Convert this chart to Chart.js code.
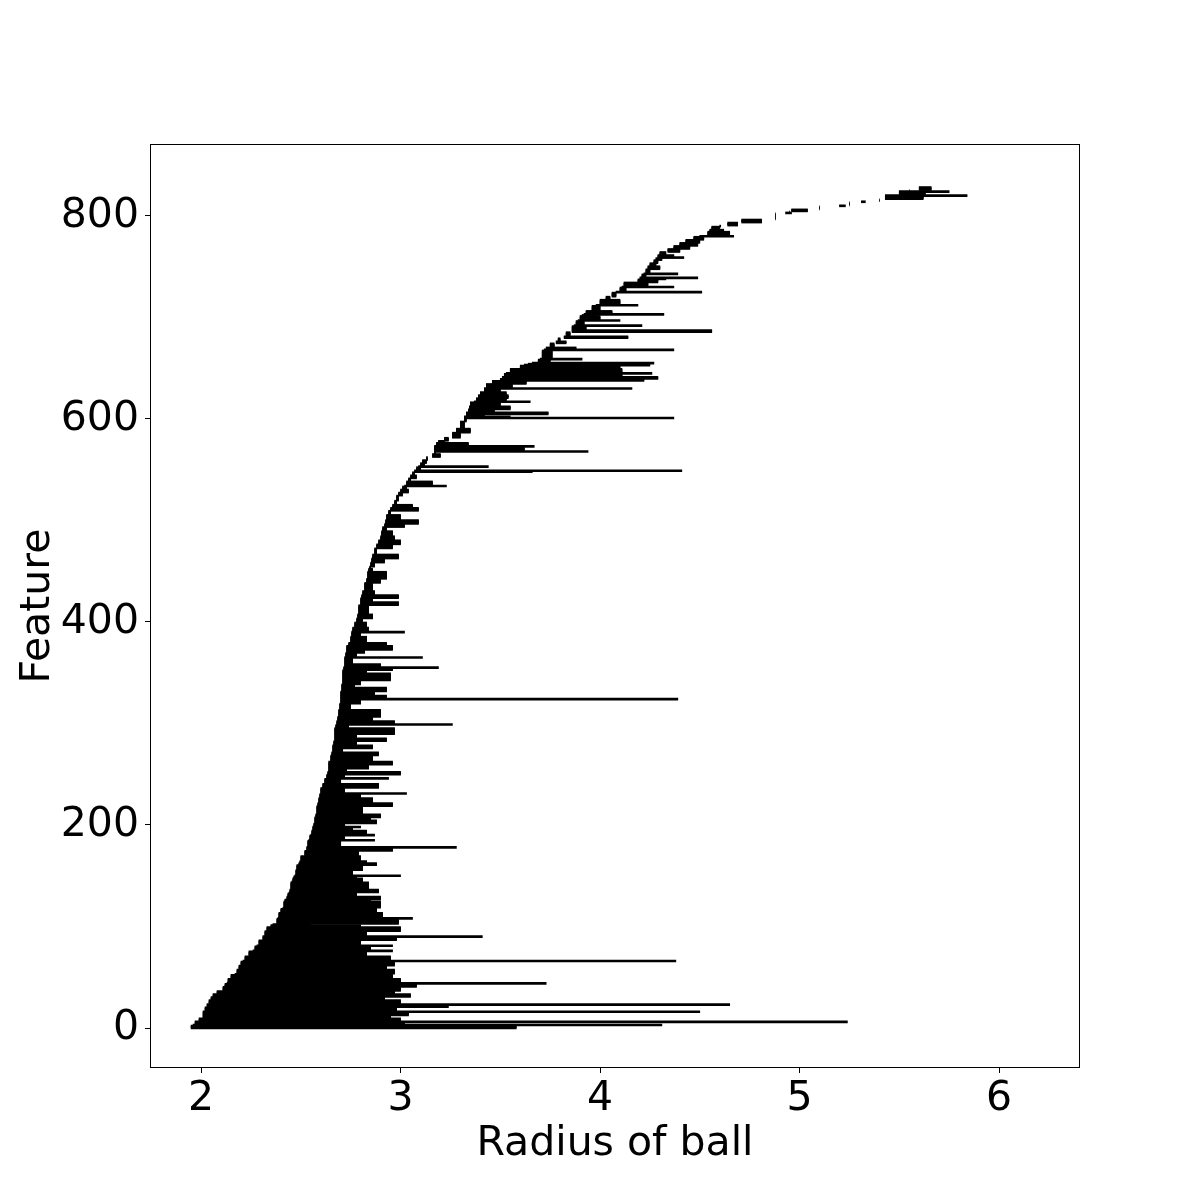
<!DOCTYPE html>
<html>
<head>
<meta charset="utf-8">
<script src="https://cdn.jsdelivr.net/npm/chart.js@4"></script>
<style>
  html, body { margin: 0; padding: 0; background: #fff; }
  #barcode { display: block; }
</style>
</head>
<body>
<canvas id="barcode" width="1200" height="1200"></canvas>
<script>
// Barcode, bottom to top: consecutive runs of features
// that share the same birth and death radius.
const runLength = [
  3, 1, 2, 1, 3, 3, 3, 1, 4, 1,
  1, 1, 4, 3, 3, 3, 4, 3, 1, 4,
  4, 1, 4, 4, 4, 1, 4, 5, 1, 4,
  1, 5, 3, 1, 5, 4, 2, 1, 5, 1,
  5, 4, 1, 6, 1, 1, 3, 3, 1, 3,
  7, 1, 3, 2, 1, 5, 5, 2, 2, 5,
  5, 3, 1, 6, 1, 4, 1, 4, 3, 1,
  3, 3, 3, 3, 7, 1, 3, 5, 4, 1,
  5, 4, 5, 1, 3, 3, 3, 4, 3, 6,
  3, 4, 3, 4, 3, 4, 6, 3, 1, 3,
  4, 7, 6, 4, 1, 3, 4, 4, 3, 4,
  7, 3, 2, 1, 3, 6, 1, 4, 3, 4,
  3, 6, 4, 1, 4, 5, 4, 4, 9, 3,
  4, 3, 4, 8, 4, 7, 3, 2, 4, 4,
  4, 6, 4, 4, 4, 5, 4, 3, 4, 5,
  4, 3, 3, 4, 5, 3, 3, 3, 1, 4,
  3, 3, 3, 1, 1, 3, 1, 3, 3, 3,
  3, 2, 1, 4, 1, 3, 2, 3, 5, 4,
  7, 3, 1, 1, 2, 2, 3, 3, 4, 1,
  3, 3, 3, 3, 1, 4, 3, 2, 2, 3,
  1, 4, 3, 1, 1, 1, 3, 1, 8, 1,
  2, 4, 2, 3, 2, 4, 2, 4, 1, 4,
  1, 4, 1, 1, 3, 5, 1, 5, 3, 4,
  1, 4, 1, 4, 3, 1, 1, 3, 1, 4,
  3, 3, 3, 2, 1, 2, 3, 3, 3, 3,
  3, 3, 1, 4, 2, 3, 1, 3, 3, 6,
  1, 1, 2, 3, 1, 3, 1, 2, 3, 1,
  3, 1, 1, 3
];

const runBirth = [
  1.95, 1.96, 1.97, 1.97, 1.99, 2.01, 2.01, 2.01, 2.02, 2.03,
  2.03, 2.03, 2.04, 2.05, 2.06, 2.08, 2.11, 2.12, 2.13, 2.135,
  2.15, 2.17, 2.18, 2.19, 2.20, 2.21, 2.22, 2.24, 2.26, 2.27,
  2.28, 2.29, 2.31, 2.31, 2.32, 2.33, 2.35, 2.36, 2.38, 2.385,
  2.39, 2.40, 2.41, 2.415, 2.42, 2.42, 2.43, 2.435, 2.44, 2.445,
  2.45, 2.455, 2.46, 2.465, 2.47, 2.475, 2.48, 2.49, 2.495, 2.50,
  2.52, 2.53, 2.53, 2.535, 2.54, 2.545, 2.55, 2.555, 2.56, 2.56,
  2.565, 2.57, 2.57, 2.575, 2.58, 2.58, 2.585, 2.59, 2.595, 2.60,
  2.60, 2.61, 2.62, 2.63, 2.63, 2.635, 2.64, 2.64, 2.64, 2.65,
  2.655, 2.66, 2.66, 2.665, 2.67, 2.67, 2.67, 2.675, 2.68, 2.68,
  2.685, 2.69, 2.695, 2.70, 2.70, 2.70, 2.70, 2.705, 2.705, 2.71,
  2.71, 2.71, 2.715, 2.715, 2.72, 2.72, 2.72, 2.725, 2.73, 2.73,
  2.74, 2.75, 2.755, 2.755, 2.76, 2.77, 2.78, 2.785, 2.79, 2.80,
  2.80, 2.805, 2.81, 2.82, 2.83, 2.835, 2.84, 2.845, 2.85, 2.855,
  2.86, 2.87, 2.88, 2.89, 2.90, 2.905, 2.91, 2.92, 2.925, 2.93,
  2.94, 2.95, 2.96, 2.97, 2.98, 2.99, 3.00, 3.01, 3.02, 3.03,
  3.04, 3.05, 3.06, 3.07, 3.07, 3.08, 3.09, 3.10, 3.11, 3.13,
  3.16, 3.17, 3.17, 3.17, 3.17, 3.18, 3.19, 3.22, 3.26, 3.28,
  3.30, 3.32, 3.32, 3.32, 3.33, 3.33, 3.34, 3.345, 3.35, 3.37,
  3.38, 3.39, 3.40, 3.42, 3.42, 3.43, 3.46, 3.50, 3.51, 3.52,
  3.53, 3.55, 3.60, 3.62, 3.64, 3.66, 3.69, 3.70, 3.71, 3.72,
  3.73, 3.75, 3.78, 3.79, 3.82, 3.83, 3.86, 3.86, 3.87, 3.88,
  3.89, 3.90, 3.91, 3.92, 3.93, 3.96, 3.98, 4.00, 4.03, 4.06,
  4.08, 4.10, 4.11, 4.12, 4.19, 4.20, 4.20, 4.21, 4.22, 4.23,
  4.24, 4.25, 4.27, 4.28, 4.29, 4.29, 4.30, 4.34, 4.37, 4.40,
  4.43, 4.47, 4.50, 4.54, 4.55, 4.56, 4.60, 4.64, 4.71, 4.88,
  4.93, 4.95, 4.96, 5.10, 5.20, 5.25, 5.31, 5.40, 5.43, 5.43,
  5.50, 5.50, 5.55, 5.60
];

const runDeath = [
  3.58, 4.31, 3.02, 5.24, 3.00, 2.95, 3.04, 4.50, 2.98, 3.24,
  2.90, 4.65, 3.00, 2.92, 3.05, 2.97, 3.00, 3.08, 3.73, 3.00,
  2.96, 2.38, 2.97, 2.93, 2.97, 4.38, 2.95, 2.83, 2.96, 2.85,
  2.96, 2.80, 2.98, 3.41, 2.83, 3.00, 2.80, 2.55, 2.99, 3.06,
  2.91, 2.88, 2.42, 2.90, 2.52, 2.85, 2.90, 2.78, 2.47, 2.89,
  2.84, 2.54, 2.81, 2.78, 3.00, 2.76, 2.81, 2.88, 2.83, 2.80,
  2.79, 2.96, 3.28, 2.70, 2.87, 2.72, 2.87, 2.83, 2.76, 2.80,
  2.72, 2.88, 2.85, 2.90, 2.81, 2.62, 2.96, 2.86, 2.80, 3.03,
  2.72, 2.89, 2.70, 2.94, 2.72, 3.00, 2.73, 2.84, 2.96, 2.86,
  2.89, 2.71, 2.86, 2.78, 2.93, 2.78, 2.97, 2.74, 3.26, 2.97,
  2.86, 2.90, 2.75, 2.80, 4.39, 2.93, 2.87, 2.93, 2.77, 2.80,
  2.95, 2.83, 2.96, 3.19, 2.90, 2.76, 3.11, 2.78, 2.82, 2.96,
  2.93, 2.83, 2.80, 3.02, 2.84, 2.83, 2.81, 2.86, 2.84, 2.99,
  2.86, 2.99, 2.87, 2.86, 2.90, 2.93, 2.86, 2.85, 2.87, 2.92,
  2.99, 2.88, 2.96, 3.00, 2.97, 2.96, 2.93, 3.02, 3.09, 3.00,
  2.95, 3.09, 3.06, 2.98, 2.99, 3.01, 3.04, 3.03, 3.23, 3.16,
  3.05, 3.08, 3.07, 3.66, 4.41, 3.10, 3.44, 3.12, 3.13, 3.135,
  3.20, 3.175, 3.94, 3.62, 3.67, 3.34, 3.22, 3.24, 3.30, 3.35,
  3.32, 3.33, 4.37, 3.55, 3.42, 3.74, 3.47, 3.55, 3.50, 3.65,
  3.53, 3.54, 3.53, 3.50, 4.16, 3.56, 3.63, 4.22, 4.29, 4.11,
  4.26, 4.11, 4.10, 4.25, 3.76, 4.27, 3.75, 3.91, 3.76, 4.37,
  3.88, 3.77, 3.83, 3.80, 4.14, 3.85, 4.56, 3.93, 4.21, 3.92,
  4.10, 4.00, 3.98, 4.32, 4.06, 4.00, 4.19, 4.10, 4.05, 4.08,
  4.51, 4.13, 4.37, 4.24, 4.29, 4.33, 4.49, 4.23, 4.39, 4.25,
  4.30, 4.28, 4.29, 4.31, 4.42, 4.37, 4.33, 4.40, 4.45, 4.49,
  4.50, 4.52, 4.67, 4.65, 4.62, 4.60, 4.605, 4.69, 4.81, 4.88,
  4.96, 4.95, 5.04, 5.10, 5.23, 5.25, 5.33, 5.40, 5.62, 5.84,
  5.63, 5.75, 5.55, 5.66
];

const radiusTicks = [2, 3, 4, 5, 6];
const featureTicks = [0, 200, 400, 600, 800];

const radiusRange = [1.744, 6.406];
const featureRange = [-39.4, 870.9];

const FONT = 'DejaVu Sans';

function buildBars() {
  const bars = [];
  let feature = 0;
  runLength.forEach((count, index) => {
    for (let k = 0; k < count; k++) {
      bars.push({ y: feature, x: [runBirth[index], runDeath[index]] });
      feature++;
    }
  });
  return bars;
}

const framePlugin = {
  id: 'frame',
  afterDraw(chart) {
    const { ctx, chartArea } = chart;
    ctx.save();
    ctx.strokeStyle = '#000';
    ctx.lineWidth = 1;
    ctx.strokeRect(chartArea.left + 0.5, chartArea.top + 0.5,
      chartArea.right - chartArea.left - 1, chartArea.bottom - chartArea.top - 1);
    ctx.restore();
  }
};

function fixedTicks(values) {
  return scale => {
    scale.ticks = values.map(value => ({ value }));
  };
}

new Chart(document.getElementById('barcode'), {
  type: 'bar',
  data: {
    datasets: [{
      data: buildBars(),
      backgroundColor: '#000',
      borderWidth: 0,
      barThickness: 2
    }]
  },
  options: {
    indexAxis: 'y',
    responsive: false,
    animation: false,
    devicePixelRatio: 1,
    layout: { padding: { top: 144, right: 120, left: 0, bottom: 0 } },
    plugins: {
      legend: { display: false },
      tooltip: { enabled: false }
    },
    scales: {
      x: {
        type: 'linear',
        min: radiusRange[0],
        max: radiusRange[1],
        afterBuildTicks: fixedTicks(radiusTicks),
        afterFit: scale => { scale.height = 132; },
        border: { display: false },
        grid: { drawOnChartArea: false, drawTicks: true, tickLength: 5, color: '#000' },
        ticks: {
          color: '#000',
          padding: 2,
          maxRotation: 0,
          font: { family: FONT, size: 41 }
        },
        title: {
          display: true,
          text: 'Radius of ball',
          color: '#000',
          padding: { top: 0, bottom: 31 },
          font: { family: FONT, size: 41 }
        }
      },
      y: {
        type: 'linear',
        offset: false,
        min: featureRange[0],
        max: featureRange[1],
        afterBuildTicks: fixedTicks(featureTicks),
        afterFit: scale => { scale.width = 150; },
        border: { display: false },
        grid: { offset: false, drawOnChartArea: false, drawTicks: true, tickLength: 5, color: '#000' },
        ticks: {
          color: '#000',
          padding: 6,
          font: { family: FONT, size: 41 }
        },
        title: {
          display: true,
          text: 'Feature',
          color: '#000',
          padding: { top: 14, bottom: 0 },
          font: { family: FONT, size: 41 }
        }
      }
    }
  },
  plugins: [framePlugin]
});
</script>
</body>
</html>
